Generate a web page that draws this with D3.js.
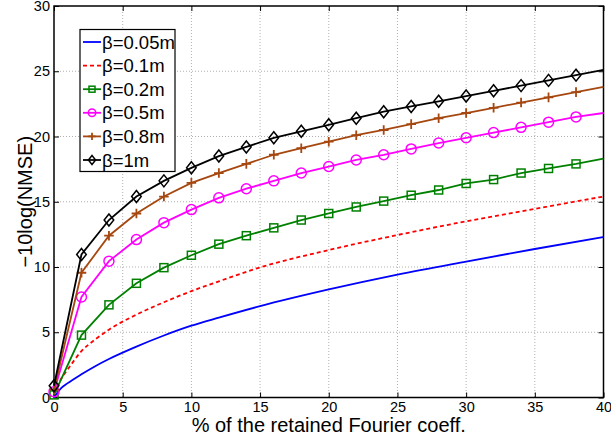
<!DOCTYPE html>
<html>
<head>
<meta charset="utf-8">
<script src="https://cdn.jsdelivr.net/npm/d3@7"></script>
<style>
  body { margin: 0; background: #fff; }
  svg { font-family: "Liberation Sans", Arial, sans-serif; }
</style>
</head>
<body>
<div id="plot"></div>
<script>
// Data
const xMark = [0, 2, 4, 6, 8, 10, 12, 14, 16, 18, 20, 22, 24, 26, 28, 30, 32, 34, 36, 38, 40];
const beta1 = [0.9, 10.96, 13.6, 15.4, 16.6, 17.6, 18.5, 19.2, 19.9, 20.4, 20.9, 21.4, 21.9, 22.3, 22.7, 23.1, 23.5, 23.9, 24.3, 24.7, 25.1];
const beta08 = [0.6, 9.56, 12.4, 14.1, 15.4, 16.45, 17.2, 17.9, 18.6, 19.1, 19.6, 20.1, 20.5, 20.95, 21.4, 21.8, 22.2, 22.6, 23.0, 23.4, 23.8];
const beta05 = [0.45, 7.7, 10.45, 12.1, 13.4, 14.4, 15.3, 16.0, 16.6, 17.2, 17.7, 18.2, 18.6, 19.05, 19.5, 19.9, 20.3, 20.7, 21.1, 21.5, 21.8];
const beta02 = [0.2, 4.78, 7.1, 8.75, 9.95, 10.9, 11.75, 12.4, 13.0, 13.6, 14.1, 14.6, 15.05, 15.5, 15.9, 16.4, 16.7, 17.2, 17.55, 17.9, 18.3];

const xSmooth = [0, 0.5, 1, 2, 3, 4, 6, 8, 10, 12, 15, 20, 25, 30, 35, 40];
const beta005 = [0, 0.7, 1.1, 1.78, 2.4, 2.95, 3.9, 4.75, 5.5, 6.12, 7.0, 8.28, 9.42, 10.42, 11.38, 12.3];
const beta01 = [0.3, 1.4, 2.15, 3.55, 4.45, 5.2, 6.35, 7.3, 8.15, 8.9, 9.97, 11.3, 12.45, 13.5, 14.45, 15.4];

const xTicks = [0, 5, 10, 15, 20, 25, 30, 35, 40];
const yTicks = [0, 5, 10, 15, 20, 25, 30];

const series = [
  { name: "β=0.05m", xs: xSmooth, ys: beta005, color: "#0000ff", dash: null, marker: null },
  { name: "β=0.1m", xs: xSmooth, ys: beta01, color: "#ff0000", dash: "4,3", marker: null },
  { name: "β=0.2m", xs: xMark, ys: beta02, color: "#008000", dash: null, marker: "square" },
  { name: "β=0.5m", xs: xMark, ys: beta05, color: "#ff00ff", dash: null, marker: "circle" },
  { name: "β=0.8m", xs: xMark, ys: beta08, color: "#a5470f", dash: null, marker: "plus" },
  { name: "β=1m", xs: xMark, ys: beta1, color: "#000000", dash: null, marker: "diamond" }
];

const W = 611, H = 442;
const margin = { top: 6, right: 7.5, bottom: 44.5, left: 54 };
const width = W - margin.left - margin.right;
const height = H - margin.top - margin.bottom;

const svg = d3.select("#plot").append("svg")
  .attr("width", W).attr("height", H);
const g = svg.append("g")
  .attr("transform", `translate(${margin.left},${margin.top})`);

const x = d3.scaleLinear().domain([0, 40]).range([0, width]);
const y = d3.scaleLinear().domain([0, 30]).range([height, 0]);

// Grid (dotted)
g.append("g").selectAll("line").data(xTicks.slice(1, -1)).join("line")
  .attr("x1", d => x(d)).attr("x2", d => x(d))
  .attr("y1", 0).attr("y2", height)
  .attr("stroke", "#b0b0b0").attr("stroke-width", 1).attr("stroke-dasharray", "1,2");
g.append("g").selectAll("line").data(yTicks.slice(1, -1)).join("line")
  .attr("y1", d => y(d)).attr("y2", d => y(d))
  .attr("x1", 0).attr("x2", width)
  .attr("stroke", "#b0b0b0").attr("stroke-width", 1).attr("stroke-dasharray", "1,2");

// Axes with inward ticks on all sides
const tick = 5;
g.append("g").attr("transform", `translate(0,${height})`)
  .call(d3.axisBottom(x).tickValues(xTicks).tickSizeInner(-tick).tickSizeOuter(0).tickPadding(4))
  .call(a => a.select(".domain").remove());
g.append("g").call(d3.axisTop(x).tickValues(xTicks).tickSizeInner(-tick).tickSizeOuter(0).tickFormat(""))
  .call(a => a.select(".domain").remove());
g.append("g")
  .call(d3.axisLeft(y).tickValues(yTicks).tickSizeInner(-tick).tickSizeOuter(0).tickPadding(4))
  .call(a => a.select(".domain").remove());
g.append("g").attr("transform", `translate(${width},0)`)
  .call(d3.axisRight(y).tickValues(yTicks).tickSizeInner(-tick).tickSizeOuter(0).tickFormat(""))
  .call(a => a.select(".domain").remove());
g.selectAll(".tick line").attr("stroke", "#000").attr("stroke-width", 1);
g.selectAll(".tick text").attr("font-size", 14.5).attr("fill", "#000")
  .attr("font-family", "Liberation Sans, Arial, sans-serif");

g.append("rect").attr("width", width).attr("height", height)
  .attr("fill", "none").attr("stroke", "#000").attr("stroke-width", 1.5);

// Markers
function drawMarker(sel, type, color, s) {
  if (type === "square") {
    sel.append("rect").attr("x", -s).attr("y", -s).attr("width", 2 * s).attr("height", 2 * s)
      .attr("fill", "none").attr("stroke", color).attr("stroke-width", 1.5);
  } else if (type === "circle") {
    sel.append("circle").attr("r", s * 1.25).attr("fill", "none")
      .attr("stroke", color).attr("stroke-width", 1.5);
  } else if (type === "plus") {
    sel.append("path").attr("d", `M${-s * 1.2},0H${s * 1.2}M0,${-s * 1.2}V${s * 1.2}`)
      .attr("stroke", color).attr("stroke-width", 1.8);
  } else if (type === "diamond") {
    sel.append("path").attr("d", `M0,${-s * 1.5}L${s * 1.2},0L0,${s * 1.5}L${-s * 1.2},0Z`)
      .attr("fill", "none").attr("stroke", color).attr("stroke-width", 1.5);
  }
}

const plot = g.append("g");
series.forEach(s => {
  const pts = s.xs.map((v, i) => [v, s.ys[i]]);
  const gen = d3.line().x(d => x(d[0])).y(d => y(d[1]))
    .curve(s.marker ? d3.curveLinear : d3.curveMonotoneX);
  plot.append("path").datum(pts)
    .attr("d", gen)
    .attr("fill", "none")
    .attr("stroke", s.color)
    .attr("stroke-width", 1.8)
    .attr("stroke-dasharray", s.dash);
  if (s.marker) {
    plot.append("g").selectAll("g").data(pts.filter(p => p[0] < 40)).join("g")
      .attr("transform", p => `translate(${x(p[0])},${y(p[1])})`)
      .each(function () { drawMarker(d3.select(this), s.marker, s.color, 4); });
  }
});

// Legend
const leg = svg.append("g").attr("transform", "translate(80,29.5)");
leg.append("rect").attr("width", 95).attr("height", 142)
  .attr("fill", "#fff").attr("stroke", "#000").attr("stroke-width", 1.2);
series.forEach((s, i) => {
  const ly = 12.5 + i * 23.6;
  const row = leg.append("g").attr("transform", `translate(0,${ly})`);
  row.append("line").attr("x1", 3).attr("x2", 21).attr("y1", 0).attr("y2", 0)
    .attr("stroke", s.color).attr("stroke-width", 1.8).attr("stroke-dasharray", s.dash);
  if (s.marker) {
    const m = row.append("g").attr("transform", "translate(12,0)");
    drawMarker(m, s.marker, s.color, 3);
  }
  row.append("text").attr("x", 22).attr("y", 6.5)
    .attr("font-size", 18.5).attr("fill", "#000").text(s.name);
});

// Axis labels
svg.append("text")
  .attr("x", margin.left + width / 2).attr("y", 432)
  .attr("text-anchor", "middle").attr("font-size", 20)
  .text("% of the retained Fourier coeff.");
svg.append("text")
  .attr("transform", `translate(32,${margin.top + height / 2}) rotate(-90)`)
  .attr("text-anchor", "middle").attr("font-size", 20)
  .text("\u221210log(NMSE)");
</script>
</body>
</html>
